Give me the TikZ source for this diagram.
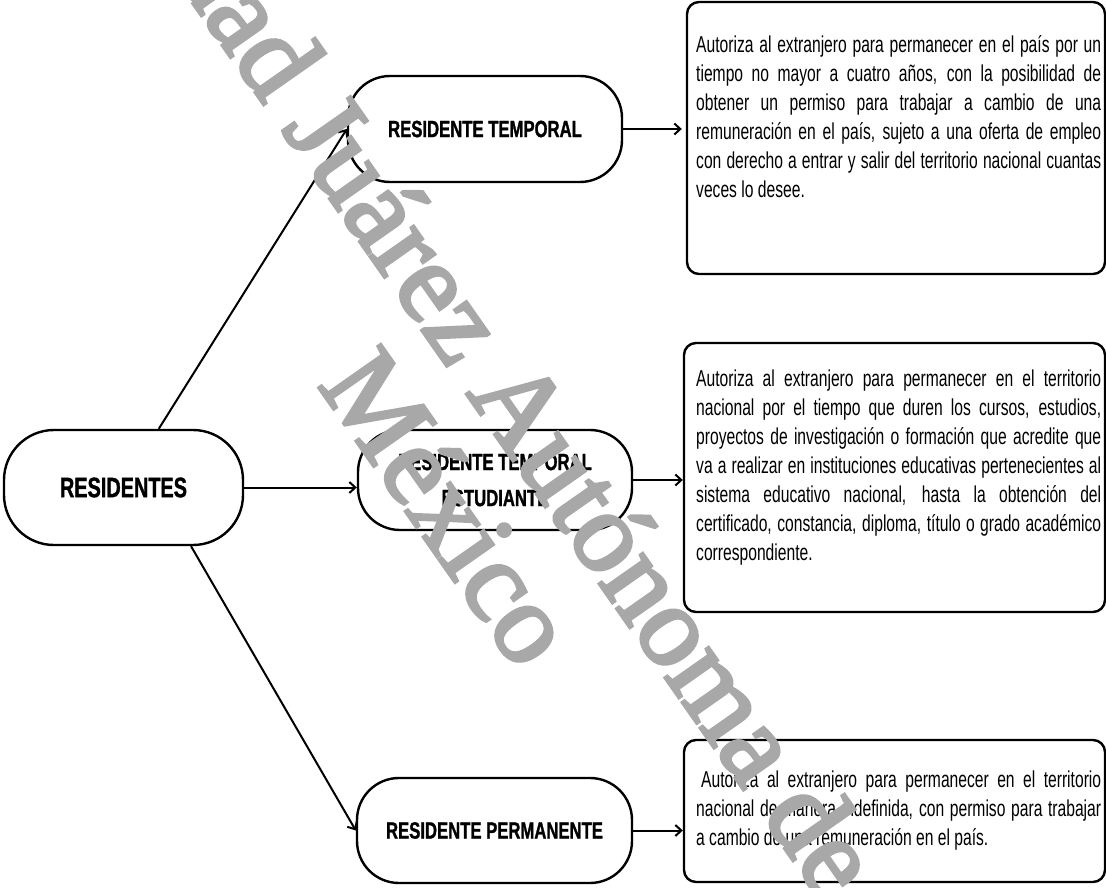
\documentclass[tikz,border=0pt]{standalone}
\usepackage{fontspec}
\setmainfont{Liberation Sans}
\newfontfamily\descfont[FakeStretch=0.68]{Liberation Sans}
\newfontfamily\labfont[FakeStretch=0.71, FakeBold=1.2]{Liberation Sans}
\newfontfamily\wmfont{Liberation Serif}
\usetikzlibrary{arrows.meta,calc}
\definecolor{wmgray}{gray}{0.66}
\tikzset{
  box/.style={draw, line width=2.4pt, rounded corners=42pt, align=center, inner sep=0pt,
    font=\labfont\bfseries\fontsize{23.5}{36}\selectfont},
  descbox/.style={draw, line width=2.4pt, rounded corners=12pt, inner sep=0pt},
  desc/.style={text width=405pt, align=justify, inner sep=0pt,
    font=\descfont\fontsize{23}{29}\selectfont},
  arr/.style={line width=2pt, -{Straight Barb[length=6pt,width=11pt]}},
  wm/.style={font=\wmfont\fontsize{115}{118}\selectfont, rotate=-55,
    anchor=base west, inner sep=0pt}
}
\newcommand{\wmon}{\special{pdf:literal direct 2 Tr 0.66 G 3.5 w}}
\newcommand{\wmoff}{\special{pdf:literal direct 0 Tr}}
\begin{document}
\begin{tikzpicture}[x=1pt,y=-1pt]
\useasboundingbox (0,0) rectangle (1106,888);
% left / middle boxes
\node[box, minimum width=239pt, minimum height=115pt, rounded corners=50pt,
  font=\labfont\bfseries\fontsize{28}{34}\selectfont] (r) at (123.5,487.5) {RESIDENTES};
\node[box, minimum width=274pt, minimum height=106pt] (rt) at (485,129) {RESIDENTE TEMPORAL};
\node[box, minimum width=274pt, minimum height=100pt] (rte) at (495,480) {RESIDENTE TEMPORAL\\ESTUDIANTE};
\node[box, minimum width=275pt, minimum height=105pt] (rp) at (494.5,830.5) {RESIDENTE PERMANENTE};
% description boxes
\node[descbox, minimum width=418pt, minimum height=272pt] (d1) at (896,138) {};
\node[descbox, minimum width=421pt, minimum height=269pt] (d2) at (894.5,477.5) {};
\node[descbox, minimum width=421pt, minimum height=142pt] (d3) at (894.5,811) {};
\node[desc, anchor=north west] (t1) at (696,35) {\tolerance=10000 \hbadness=10000
Autoriza al extranjero para permanecer en el país por un\linebreak
tiempo no mayor a cuatro años, con la posibilidad de\linebreak
obtener un permiso para trabajar a cambio de una\linebreak
remuneración en el país, sujeto a una oferta de empleo\linebreak
con derecho a entrar y salir del territorio nacional cuantas\linebreak
veces lo desee.};
\node[desc, anchor=north west] (t2) at (696,370) {\tolerance=10000 \hbadness=10000
Autoriza al extranjero para permanecer en el territorio\linebreak
nacional por el tiempo que duren los cursos, estudios,\linebreak
proyectos de investigación o formación que acredite que\linebreak
va a realizar en instituciones educativas pertenecientes al\linebreak
sistema educativo nacional, hasta la obtención del\linebreak
certificado, constancia, diploma, título o grado académico\linebreak
correspondiente.};
\node[desc, anchor=west] (t3) at (696,811) {\tolerance=10000 \hbadness=10000
\hspace*{5pt}Autoriza al extranjero para permanecer en el territorio\linebreak
nacional de manera indefinida, con permiso para trabajar\linebreak
a cambio de una remuneración en el país.};
% connectors
\draw[arr] (r.59) -- (rt.west);
\draw[arr] (r.east) -- (rte.west |- r.east);
\draw[arr] (r.-41.3) -- (rp.west);
\draw[arr, shorten >=4pt] (rt.east) -- (rt.east -| d1.west);
\draw[arr] (rte.east) -- (rte.east -| d2.west);
\draw[arr] (rp.east) -- (rp.east -| d3.west);
% watermark
\node[wm] (wm1) at (-58,-355) {\color{wmgray}\wmon Universidad Juárez Autónoma de\wmoff};
\node[wm] (wm2) at (317,385) {\color{wmgray}\wmon México\wmoff};
\end{tikzpicture}
\end{document}
